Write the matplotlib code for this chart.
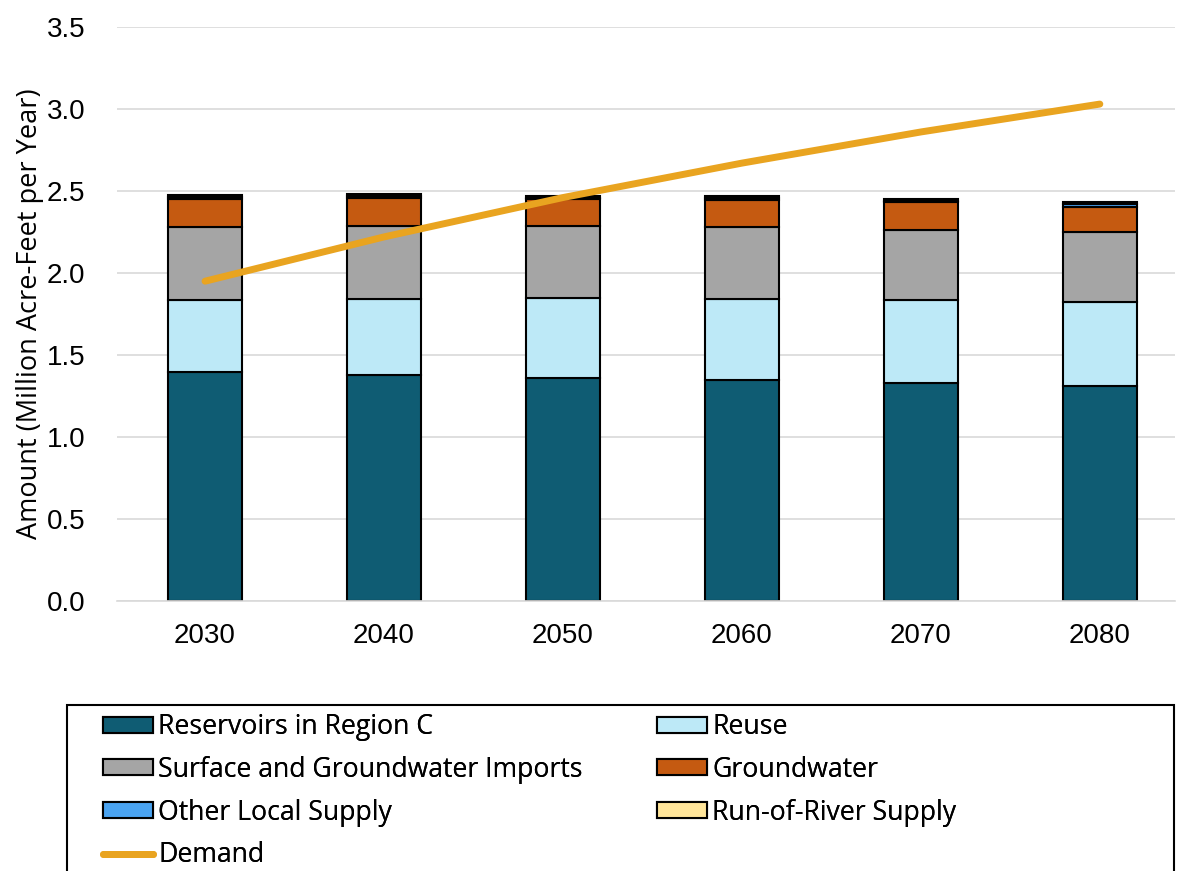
import matplotlib.pyplot as plt
from matplotlib.patches import Rectangle
import numpy as np

plt.rcParams['font.family'] = ['Liberation Sans', 'DejaVu Sans']

years = ['2030', '2040', '2050', '2060', '2070', '2080']
reservoirs = [1.396, 1.378, 1.360, 1.348, 1.330, 1.311]
reuse = [0.439, 0.462, 0.488, 0.494, 0.505, 0.512]
imports = [0.445, 0.447, 0.439, 0.438, 0.427, 0.427]
groundwater = [0.171, 0.170, 0.164, 0.165, 0.170, 0.155]
other_local = [0.012, 0.010, 0.008, 0.010, 0.010, 0.016]
run_of_river = [0.012, 0.012, 0.012, 0.012, 0.010, 0.012]
demand = [1.95, 2.22, 2.46, 2.67, 2.86, 3.03]

series = [
    ('Reservoirs in Region C', reservoirs, '#0f5c73'),
    ('Reuse', reuse, '#bde9f7'),
    ('Surface and Groundwater Imports', imports, '#a5a5a5'),
    ('Groundwater', groundwater, '#c55a11'),
    ('Other Local Supply', other_local, '#4aa3f0'),
    ('Run-of-River Supply', run_of_river, '#ffe59a'),
]

W, H = 1180, 871
fig = plt.figure(figsize=(W / 100, H / 100), dpi=100)
ax = fig.add_axes([117/W, 1 - 601/H, (1175-117)/W, (601-27)/H])

x = np.arange(len(years))
bottom = np.zeros(len(years))
handles = {}
for name, vals, col in series:
    b = ax.bar(x, vals, 0.413, bottom=bottom, color=col, edgecolor='black',
               linewidth=1.5, label=name, zorder=2)
    handles[name] = b
    bottom += np.array(vals)

line, = ax.plot(x, demand, color='#e9a420', linewidth=5, solid_capstyle='round',
                label='Demand', zorder=3)
handles['Demand'] = line

ax.set_ylim(0, 3.5)
ax.set_xlim(-0.492, 5.42)
yt = np.arange(0, 3.51, 0.5)
ax.set_yticks(yt)
ax.set_yticklabels([f'{v:.1f}' for v in yt])
ax.set_xticks(x)
ax.set_xticklabels(years)
ax.tick_params(length=0, labelsize=20)
ax.tick_params(axis='x', pad=16)
ax.tick_params(axis='y', pad=23)
ax.grid(axis='y', color='#d9d9d9', linewidth=1.2, zorder=0)
for s in ['top', 'right', 'left']:
    ax.spines[s].set_visible(False)
ax.spines['bottom'].set_color('#d9d9d9')
ax.spines['bottom'].set_linewidth(1.2)
ax.set_ylabel('Amount (Million Acre-Feet per Year)', fontsize=19.5,
              family=['Open Sans', 'DejaVu Sans'], labelpad=2)

# legend box, runs off the bottom edge
fig.patches.append(Rectangle((67/W, -0.05), (1174-67)/W, 0.05 + 1 - 705/H,
                             transform=fig.transFigure, fill=False,
                             edgecolor='black', linewidth=1.5))

cols = [
    (103, ['Reservoirs in Region C', 'Surface and Groundwater Imports',
           'Other Local Supply', 'Demand']),
    (657, ['Reuse', 'Groundwater', 'Run-of-River Supply']),
]
for xpos, names in cols:
    lg = fig.legend([handles[n] for n in names], names, loc='upper left',
                    bbox_to_anchor=(xpos/W, 1 - 713/H), frameon=False,
                    prop={'family': ['Open Sans', 'DejaVu Sans'], 'size': 19.2},
                    handlelength=1.88, handleheight=0.54,
                    handletextpad=0.2, labelspacing=0.555, borderpad=0,
                    borderaxespad=0)
    fig.add_artist(lg)

fig.savefig('out.png', dpi=100)
